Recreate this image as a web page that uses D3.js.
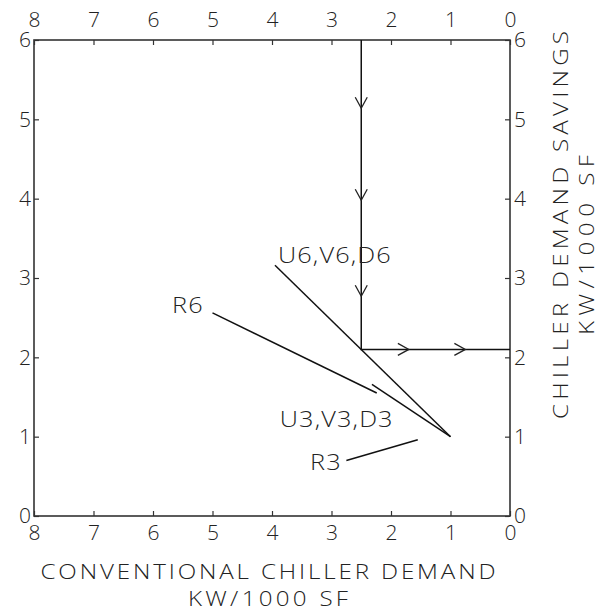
<!DOCTYPE html>
<html>
<head>
<meta charset="utf-8">
<script src="https://cdn.jsdelivr.net/npm/d3@7"></script>
<style>
  body { margin: 0; background: #fff; }
  text { font-family: "Open Sans", "DejaVu Sans", sans-serif; font-weight: 300; fill: #222; }
</style>
</head>
<body>
<div id="chart"></div>
<script>
// values (x axis runs 8 -> 0)
var xTicks = [8, 7, 6, 5, 4, 3, 2, 1, 0];
var yTicks = [0, 1, 2, 3, 4, 5, 6];

var u6Line = [[3.95, 3.16], [1.0, 1.0]];
var r6Line = [[5.0, 2.56], [2.24, 1.55]];
var u3Line = [[2.32, 1.66], [1.0, 1.0]];
var r3Line = [[2.75, 0.70], [1.55, 0.96]];

// the design path: down from the top at 2.5, then across at 2.1
var pathLine = [[2.5, 6], [2.5, 2.1], [0, 2.1]];
var downArrows = [5.14, 3.98, 2.77];
var rightArrows = [1.7, 0.75];

var curveLabels = [
  {text: "U6,V6,D6", x: 3.9, y: 3.19},
  {text: "R6", x: 5.68, y: 2.56},
  {text: "U3,V3,D3", x: 3.87, y: 1.12},
  {text: "R3", x: 3.36, y: 0.58}
];

var width = 605, height = 614;
var margin = {top: 40, right: 95, bottom: 98, left: 34};

var svg = d3.select("#chart")
  .append("svg")
    .attr("width", width)
    .attr("height", height);

var x = d3.scaleLinear()
  .domain([8, 0])
  .range([margin.left, width - margin.right]);

var y = d3.scaleLinear()
  .domain([0, 6])
  .range([height - margin.bottom, margin.top]);

// axes, ticks pointing inward
function styleAxis(g) {
  g.select(".domain").remove();
  g.selectAll(".tick line").attr("stroke", "#333").attr("stroke-width", 1.2);
  g.selectAll(".tick text").attr("font-size", 21).attr("fill", "#222");
}

svg.append("g")
  .attr("transform", "translate(0," + y(0) + ")")
  .call(d3.axisBottom(x).tickValues(xTicks).tickSize(-5).tickPadding(9).tickFormat(d3.format("d")))
  .call(styleAxis);

svg.append("g")
  .attr("transform", "translate(0," + y(6) + ")")
  .call(d3.axisTop(x).tickValues(xTicks).tickSize(-5).tickPadding(13).tickFormat(d3.format("d")))
  .call(styleAxis);

svg.append("g")
  .attr("transform", "translate(" + x(8) + ",0)")
  .call(d3.axisLeft(y).tickValues(yTicks).tickSize(-5).tickPadding(3).tickFormat(d3.format("d")))
  .call(styleAxis);

svg.append("g")
  .attr("transform", "translate(" + x(0) + ",0)")
  .call(d3.axisRight(y).tickValues(yTicks).tickSize(-5).tickPadding(4).tickFormat(d3.format("d")))
  .call(styleAxis);

// frame
svg.append("rect")
  .attr("x", x(8))
  .attr("y", y(6))
  .attr("width", x(0) - x(8))
  .attr("height", y(0) - y(6))
  .attr("fill", "none")
  .attr("stroke", "#333")
  .attr("stroke-width", 1.6);

var line = d3.line()
  .x(function(d) { return x(d[0]); })
  .y(function(d) { return y(d[1]); });

[u6Line, r6Line, u3Line, r3Line, pathLine].forEach(function(pts) {
  svg.append("path")
    .attr("d", line(pts))
    .attr("fill", "none")
    .attr("stroke", "#111")
    .attr("stroke-width", 1.5);
});

// open arrowheads on the path
var head = 6, len = 11;
downArrows.forEach(function(v) {
  var px = x(2.5), py = y(v);
  svg.append("path")
    .attr("d", "M" + (px - head) + "," + (py - len) + "L" + px + "," + py + "L" + (px + head) + "," + (py - len))
    .attr("fill", "none").attr("stroke", "#222").attr("stroke-width", 1.3);
});
rightArrows.forEach(function(v) {
  var px = x(v), py = y(2.1);
  svg.append("path")
    .attr("d", "M" + (px - len) + "," + (py - head) + "L" + px + "," + py + "L" + (px - len) + "," + (py + head))
    .attr("fill", "none").attr("stroke", "#222").attr("stroke-width", 1.3);
});

// lettering in the figure is wide, so stretch glyphs a little
var stretch = 1.15;

svg.selectAll(".curve-label")
  .data(curveLabels)
  .enter()
  .append("text")
    .attr("class", "curve-label")
    .attr("transform", function(d) {
      return "translate(" + x(d.x) + "," + y(d.y) + ") scale(" + stretch + ",1)";
    })
    .attr("font-size", 22)
    .attr("letter-spacing", 1)
    .text(function(d) { return d.text; });

function wideText(tx, ty, rot, len, str) {
  svg.append("text")
    .attr("transform", "translate(" + tx + "," + ty + ") rotate(" + rot + ") scale(" + stretch + ",1)")
    .attr("text-anchor", "middle")
    .attr("font-size", 21)
    .attr("textLength", len / stretch)
    .attr("lengthAdjust", "spacing")
    .text(str);
}

// axis titles
var cx = (x(8) + x(0)) / 2;
wideText(cx - 4, 579, 0, 455, "CONVENTIONAL  CHILLER  DEMAND");
wideText(cx - 4, 606, 0, 160, "KW/1000 SF");
wideText(568, 225, -90, 388, "CHILLER  DEMAND  SAVINGS");
wideText(594, 245, -90, 180, "KW/1000 SF");
</script>
</body>
</html>
